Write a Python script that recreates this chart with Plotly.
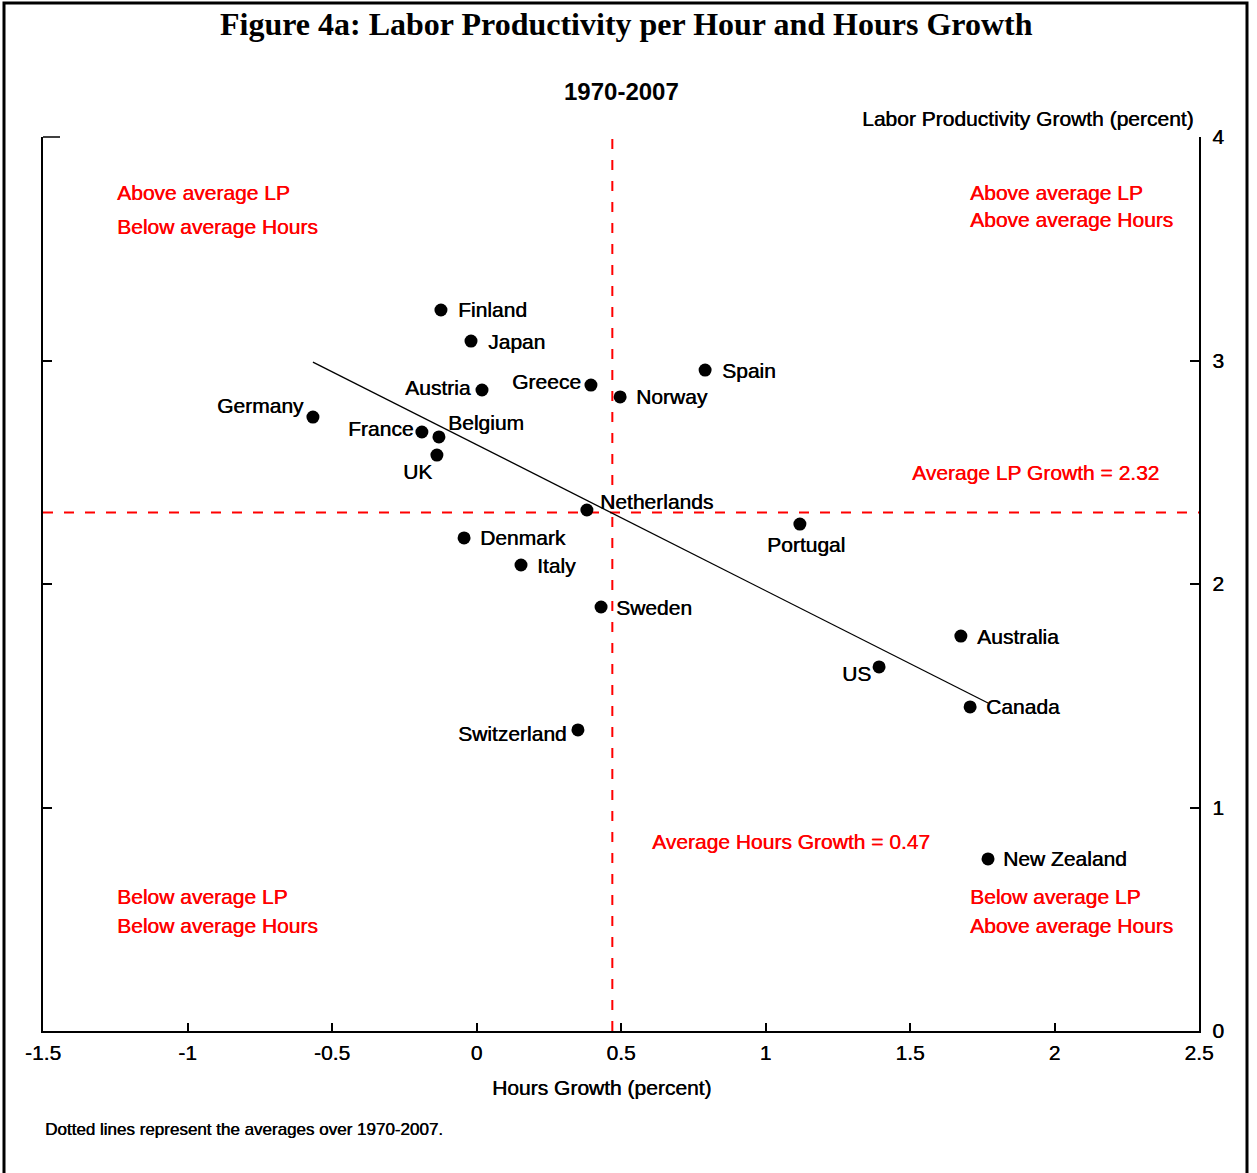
import numpy as np
import plotly.graph_objects as go

# ---------------- data ----------------
countries = ["Finland", "Japan", "Spain", "Greece", "Austria", "Norway", "Germany",
             "France", "Belgium", "UK", "Netherlands", "Portugal", "Denmark", "Italy",
             "Sweden", "Australia", "US", "Canada", "Switzerland", "New Zealand"]
hours_growth = [-0.123, -0.019, 0.791, 0.396, 0.019, 0.497, -0.566,
                -0.189, -0.130, -0.137, 0.382, 1.119, -0.043, 0.154,
                0.431, 1.676, 1.393, 1.708, 0.351, 1.770]
lp_growth = [3.226, 3.087, 2.957, 2.890, 2.868, 2.837, 2.747,
             2.680, 2.658, 2.577, 2.331, 2.268, 2.206, 2.085,
             1.897, 1.767, 1.629, 1.450, 1.347, 0.770]
avg_hours = 0.47
avg_lp = 2.32
x_ticks = [-1.5, -1, -0.5, 0, 0.5, 1, 1.5, 2, 2.5]
x_tick_text = ["-1.5", "-1", "-0.5", "0", "0.5", "1", "1.5", "2", "2.5"]
y_ticks = [0, 1, 2, 3, 4]

# ---------------- label placement (style) ----------------
# (xanchor, xshift px, yshift px)
label_place = {
    "Finland": ("left", 15, 0), "Japan": ("left", 15, 0), "Spain": ("left", 15, 0),
    "Greece": ("right", -8, 4), "Austria": ("right", -9, 3), "Norway": ("left", 14, 0),
    "Germany": ("right", -7, 12), "France": ("right", -7, 4), "Belgium": ("left", 7, 14),
    "UK": ("right", -3, -16), "Netherlands": ("left", 11, 9), "Portugal": ("center", 6, -20),
    "Denmark": ("left", 14, 0), "Italy": ("left", 14, 0), "Sweden": ("left", 13, 0),
    "Australia": ("left", 14, 0), "US": ("right", -6, -7), "Canada": ("left", 14, 0),
    "Switzerland": ("right", -9, -4), "New Zealand": ("left", 13, 0),
}

FONT = "Liberation Sans, Arial, sans-serif"
RED = "#FF0000"
SH_K = "0.45px 0 0 #000"
SH_R = "0.45px 0 0 #FF0000"
FS = 21

W, H = 1257, 1173
L, R, T, B = 43, 1199, 137, 1031


def px(xp):
    return (xp - L) / (R - L)


def py(yp):
    return (B - yp) / (B - T)


fig = go.Figure()

# average lines
fig.add_trace(go.Scatter(x=[avg_hours, avg_hours], y=[0, 4], mode="lines",
                         line=dict(color=RED, width=2, dash="10px,11px"),
                         hoverinfo="skip", showlegend=False))
fig.add_trace(go.Scatter(x=[-1.5, 2.5], y=[avg_lp, avg_lp], mode="lines",
                         line=dict(color=RED, width=2, dash="10px,11px"),
                         hoverinfo="skip", showlegend=False))

# regression line
xs = np.array(hours_growth)
ys = np.array(lp_growth)
slope, intercept = np.polyfit(xs, ys, 1)
xl = np.array([xs.min(), xs.max()])
fig.add_trace(go.Scatter(x=xl, y=slope * xl + intercept, mode="lines",
                         line=dict(color="black", width=1.3),
                         hoverinfo="skip", showlegend=False))

# points
fig.add_trace(go.Scatter(x=hours_growth, y=lp_growth, mode="markers",
                         marker=dict(color="black", size=13),
                         text=countries, showlegend=False))

annotations = []
for c, xv, yv in zip(countries, hours_growth, lp_growth):
    anchor, xs_, ys_ = label_place[c]
    annotations.append(dict(x=xv, y=yv, xref="x", yref="y", text=c, showarrow=False,
                            xanchor=anchor, yanchor="middle", xshift=xs_, yshift=ys_,
                            font=dict(family=FONT, size=FS, color="black", shadow=SH_K)))

# red quadrant text
red_texts = [
    ("Above average LP", -1.252, 3.75), ("Below average Hours", -1.252, 3.60),
    ("Above average LP", 1.70, 3.75), ("Above average Hours", 1.70, 3.63),
    ("Below average LP", -1.252, 0.60), ("Below average Hours", -1.252, 0.47),
    ("Below average LP", 1.70, 0.60), ("Above average Hours", 1.70, 0.47),
    ("Average LP Growth = 2.32", 1.50, 2.50),
    ("Average Hours Growth = 0.47", 0.60, 0.85),
]
for t, xv, yv in red_texts:
    annotations.append(dict(x=xv, y=yv, xref="x", yref="y", text=t, showarrow=False,
                            xanchor="left", yanchor="middle",
                            font=dict(family=FONT, size=FS, color=RED, shadow=SH_R)))

# titles and notes
annotations += [
    dict(x=px(626), y=py(24), xref="paper", yref="paper", showarrow=False,
         text="<b>Figure 4a: Labor Productivity per Hour and Hours Growth</b>",
         xanchor="center", yanchor="middle",
         font=dict(family="Liberation Serif, Times New Roman, serif", size=32, color="black")),
    dict(x=px(621), y=py(92), xref="paper", yref="paper", showarrow=False,
         text="<b>1970-2007</b>", xanchor="center", yanchor="middle",
         font=dict(family=FONT, size=24, color="black")),
    dict(x=px(1195), y=py(119), xref="paper", yref="paper", showarrow=False,
         text="Labor Productivity Growth (percent)", xanchor="right", yanchor="middle",
         font=dict(family=FONT, size=FS, color="black", shadow=SH_K)),
    dict(x=px(601), y=py(1087), xref="paper", yref="paper", showarrow=False,
         text="Hours Growth (percent)", xanchor="center", yanchor="middle",
         font=dict(family=FONT, size=FS, color="black", shadow=SH_K)),
    dict(x=px(43), y=py(1129), xref="paper", yref="paper", showarrow=False,
         text="Dotted lines represent the averages over 1970-2007.", xanchor="left",
         yanchor="middle", font=dict(family=FONT, size=17, color="black", shadow=SH_K)),
]

shapes = [
    dict(type="rect", xref="paper", yref="paper",
         x0=px(4), x1=px(1247), y0=py(1190), y1=py(3),
         line=dict(color="black", width=3), fillcolor="rgba(0,0,0,0)", layer="above"),
    dict(type="line", xref="paper", yref="paper",
         x0=px(43), x1=px(60), y0=py(137), y1=py(137),
         line=dict(color="black", width=1.5)),
]

fig.update_layout(
    width=W, height=H,
    margin=dict(l=L, r=W - R, t=T, b=H - B, pad=0),
    paper_bgcolor="white", plot_bgcolor="white",
    showlegend=False,
    annotations=annotations,
    shapes=shapes,
    font=dict(family=FONT, size=FS, color="black"),
    xaxis=dict(range=[-1.5, 2.5], tickvals=x_ticks, ticktext=x_tick_text,
               showline=True, linecolor="black", linewidth=2, mirror=False,
               ticks="inside", ticklen=8, tickwidth=1.5, tickcolor="black",
               showgrid=False, zeroline=False, ticklabelstandoff=2,
               tickfont=dict(family=FONT, size=FS, color="black", shadow=SH_K)),
    yaxis=dict(range=[0, 4], tickvals=y_ticks, side="right",
               showline=True, linecolor="black", linewidth=2, mirror="ticks",
               ticks="inside", ticklen=9, tickwidth=1.5, tickcolor="black",
               showgrid=False, zeroline=False, ticklabelstandoff=7,
               tickfont=dict(family=FONT, size=FS, color="black", shadow=SH_K)),
)

fig.write_html("out.html", config={"displayModeBar": False},
               post_script="document.body.style.margin='0';document.body.style.overflow='hidden';")
